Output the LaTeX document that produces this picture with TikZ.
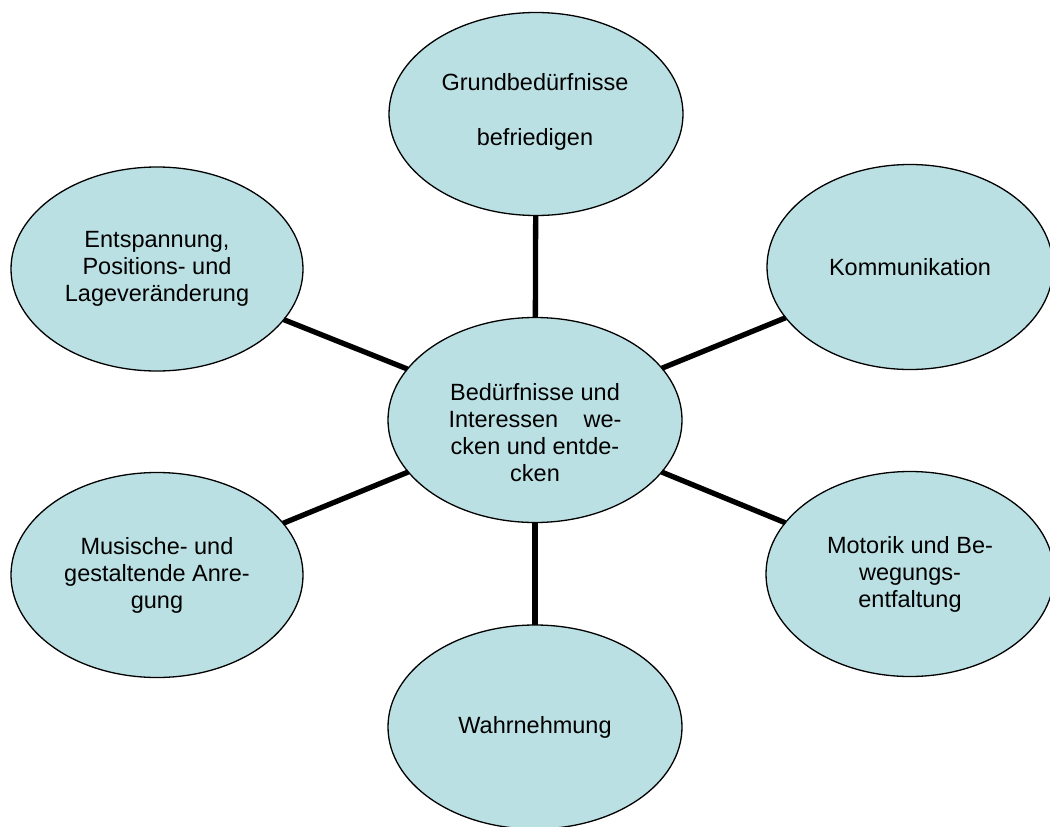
\documentclass[tikz,border=0pt]{standalone}
\usepackage{fontspec}
\setmainfont{Liberation Sans}
\usetikzlibrary{shapes.geometric}
\definecolor{bubblefill}{RGB}{187,224,227}
\tikzset{
  bubble/.style={ellipse, draw=black, line width=1.3pt, fill=bubblefill, inner sep=0pt, outer sep=0pt, align=center, font=\fontsize{23.5}{27}\selectfont},
  link/.style={line width=5.3pt, draw=black},
  txt/.style={align=center, inner sep=0pt, font=\fontsize{23.5}{27}\selectfont}
}
\begin{document}
\begin{tikzpicture}[x=1pt,y=-1pt]
\useasboundingbox (0,0) rectangle (1050,827);
\node[bubble, minimum width=294pt, minimum height=203pt] (top) at (536,114) {};
\node[txt] (toptxt) at (535,112) {Grundbedürfnisse\\[28pt]befriedigen};
\node[bubble, minimum width=292pt, minimum height=204pt] (tl) at (157,269) {Entspannung,\\Positions- und\\Lageveränderung};
\node[bubble, minimum width=286pt, minimum height=205pt] (tr) at (910,267) {Kommunikation};
\node[bubble, minimum width=294pt, minimum height=205pt] (c) at (535,420) {};
\node[txt, anchor=north] (ctxt) at (535,383) {Bedürfnisse und\\\makebox[173pt]{Interessen\hfill we-}\\cken und entde-\\cken};
\node[bubble, minimum width=292pt, minimum height=205pt] (bl) at (157,575) {Musische- und\\gestaltende Anre-\\gung};
\node[bubble, minimum width=288pt, minimum height=205pt] (br) at (910,574) {Motorik und Be-\\wegungs-\\entfaltung};
\node[bubble, minimum width=294pt, minimum height=204pt] (b) at (535,727) {Wahrnehmung};
\draw[link] (c) -- (top);
\draw[link] (c) -- (tl);
\draw[link] (c) -- (tr);
\draw[link] (c) -- (bl);
\draw[link] (c) -- (br);
\draw[link] (c) -- (b);
\end{tikzpicture}
\end{document}
